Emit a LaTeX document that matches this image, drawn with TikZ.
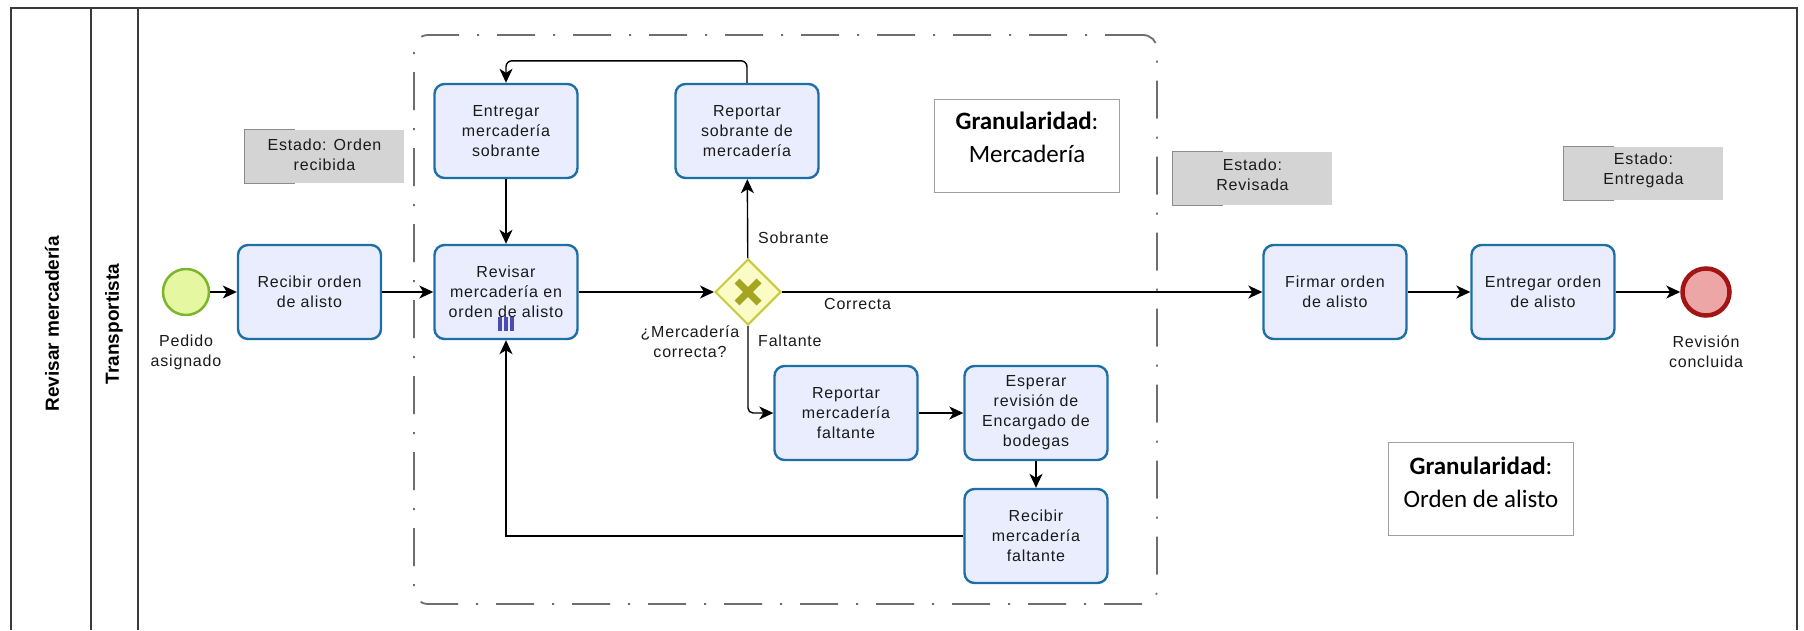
\documentclass[tikz,border=0pt]{standalone}
\usepackage{fontspec}
\setmainfont{Liberation Sans}
\newfontfamily\taskfont{Liberation Sans}[LetterSpace=5]
\newfontfamily\granfont{Carlito}
\usetikzlibrary{arrows.meta,shapes.geometric}
\definecolor{taskfill}{HTML}{E9EDFD}
\definecolor{taskline}{HTML}{1D6FA5}
\definecolor{textdark}{HTML}{1A1A1A}
\definecolor{startfill}{HTML}{E6F7A2}
\definecolor{startline}{HTML}{7AB52B}
\definecolor{endfill}{HTML}{EDA6A6}
\definecolor{endline}{HTML}{A31515}
\definecolor{gwfill}{HTML}{FBFBC8}
\definecolor{gwline}{HTML}{C9C93E}
\definecolor{gwmark}{HTML}{A5A521}
\definecolor{notefill}{HTML}{D4D4D4}
\definecolor{notebr}{HTML}{8C8C8C}
\definecolor{granline}{HTML}{A0A0A0}
\definecolor{grpline}{HTML}{6E6E6E}
\definecolor{mimark}{HTML}{4B4BB5}
\definecolor{frameline}{HTML}{3A3A3A}
\begin{document}
\begin{tikzpicture}[x=1pt,y=-1pt,
  task/.style={draw=taskline, fill=taskfill, line width=2.4pt, rounded corners=10pt,
    minimum width=143pt, minimum height=94pt, align=center, inner sep=2pt,
    text=textdark, font=\taskfont\fontsize{16}{20}\selectfont},
  lbl/.style={align=center, inner sep=0pt, text=textdark,
    font=\taskfont\fontsize{16}{20}\selectfont},
  note/.style={fill=notefill, minimum width=159pt, minimum height=53pt, inner sep=0pt},
  notebracket/.style={draw=notebr, line width=1.2pt},
  lane/.style={rotate=90, inner sep=0pt, font=\bfseries\fontsize{19}{22}\selectfont},
  flow/.style={line width=1.4pt, -{Stealth[length=14pt,width=13pt,inset=4pt]}},
  granbox/.style={draw=granline, line width=1.2pt, fill=white, minimum width=185pt, minimum height=93pt},
  grantext/.style={align=center, inner sep=0pt, font=\granfont\fontsize{25}{33}\selectfont},
  gateway/.style={diamond, aspect=1, draw=gwline, fill=gwfill, line width=2pt,
    minimum width=66pt, minimum height=66pt, inner sep=0pt},
  group/.style={draw=grpline, line width=1.8pt, rounded corners=14pt,
    dash pattern=on 38pt off 18pt on 2pt off 18pt,
    minimum width=743pt, minimum height=569pt, inner sep=0pt}
]
\useasboundingbox (0,0) rectangle (1804,630);

% pool and lane frame
\draw[frameline, line width=1.3pt] (11,630) |- (1797,8) -- (1797,630);
\draw[frameline, line width=1.3pt] (91,8) -- (91,630);
\draw[frameline, line width=1.3pt] (138,8) -- (138,630);
\node[lane] (pool) at (52,324) {Revisar mercadería};
\node[lane] (lanename) at (114,324) {Transportista};

% expanded sub-process group
\node[group] (grp) at (785.5,319.5) {};

% state annotations
\node[note] (n1) at (324.5,156.5) {};
\node[note] (n2) at (1252.5,178.5) {};
\node[note] (n3) at (1643.5,173.5) {};
\foreach \n in {n1,n2,n3}{
  \draw[notebracket] ([xshift=50pt]\n.north west) -- (\n.north west) -- (\n.south west) -- ([xshift=50pt]\n.south west);
}
\node[lbl] (n1t) at (324.5,155) {Estado: Orden\\recibida};
\node[lbl] (n2t) at (1252.5,175) {Estado:\\Revisada};
\node[lbl] (n3t) at (1643.5,170) {Estado:\\Entregada};

% granularity boxes
\node[granbox] (g1) at (1027,146) {};
\node[grantext] (g1t) at (1027,137) {\textbf{Granularidad}:\\Mercadería};
\node[granbox] (g2) at (1481,489) {};
\node[grantext] (g2t) at (1481,482) {\textbf{Granularidad}:\\Orden de alisto};

% events
\node[circle, draw=startline, fill=startfill, line width=2.5pt, minimum size=46pt, inner sep=0pt] (start) at (186,292) {};
\node[lbl] (startl) at (186,352) {Pedido\\asignado};
\node[circle, draw=endline, fill=endfill, line width=4.5pt, minimum size=47pt, inner sep=0pt] (endev) at (1706,292) {};
\node[lbl] (endl) at (1706,352) {Revisión\\concluida};

% tasks
\node[task] (rec) at (309.5,292) {Recibir orden\\de alisto};
\node[task] (ent) at (506,131) {Entregar\\mercadería\\sobrante};
\node[task] (repsob) at (747,131) {Reportar\\sobrante de\\mercadería};
\node[task] (rev) at (506,292) {Revisar\\mercadería en\\orden de alisto};
\node[task] (repfal) at (846,413) {Reportar\\mercadería\\faltante};
\node[task] (esp) at (1036,413) {Esperar\\revisión de\\Encargado de\\bodegas};
\node[task] (recfal) at (1036,536) {Recibir\\mercadería\\faltante};
\node[task] (fir) at (1335,292) {Firmar orden\\de alisto};
\node[task] (entord) at (1543,292) {Entregar orden\\de alisto};

% multi-instance marker
\foreach \dx in {-6,0,6}{
  \draw[mimark, line width=3.4pt] ([shift={(\dx,-23)}]rev.south) -- ([shift={(\dx,-9)}]rev.south);
}

% exclusive gateway
\node[gateway] (gw) at (748,292) {};
\draw[gwmark, line width=7pt] ([shift={(-11,-11)}]gw.center) -- ([shift={(11,11)}]gw.center);
\draw[gwmark, line width=7pt] ([shift={(-11,11)}]gw.center) -- ([shift={(11,-11)}]gw.center);
\node[lbl] (gwl) at (690,342) {¿Mercadería\\correcta?};

% sequence flows
\draw[flow] (start) -- (rec);
\draw[flow] (rec) -- (rev);
\draw[flow] (ent) -- (rev);
\draw[flow] (rev) -- (gw);
\draw[flow] (gw) -- (repsob);
\draw[flow, rounded corners=6pt] (repsob.north) -- ++(0,-22) -| (ent.north);
\draw[flow] (gw.east) -- (fir.west);
\draw[flow, rounded corners=5pt] (gw.south) |- (repfal.west);
\draw[flow] (repfal) -- (esp);
\draw[flow] (esp) -- (recfal);
\draw[flow] (recfal.west) -| (rev.south);
\draw[flow] (fir) -- (entord);
\draw[flow] (entord) -- (endev);

% flow labels
\node[lbl, anchor=west] (lsob) at (758,238) {Sobrante};
\node[lbl, anchor=west] (lfal) at (758,341) {Faltante};
\node[lbl, anchor=west] (lcor) at (824,304) {Correcta};
\end{tikzpicture}
\end{document}
